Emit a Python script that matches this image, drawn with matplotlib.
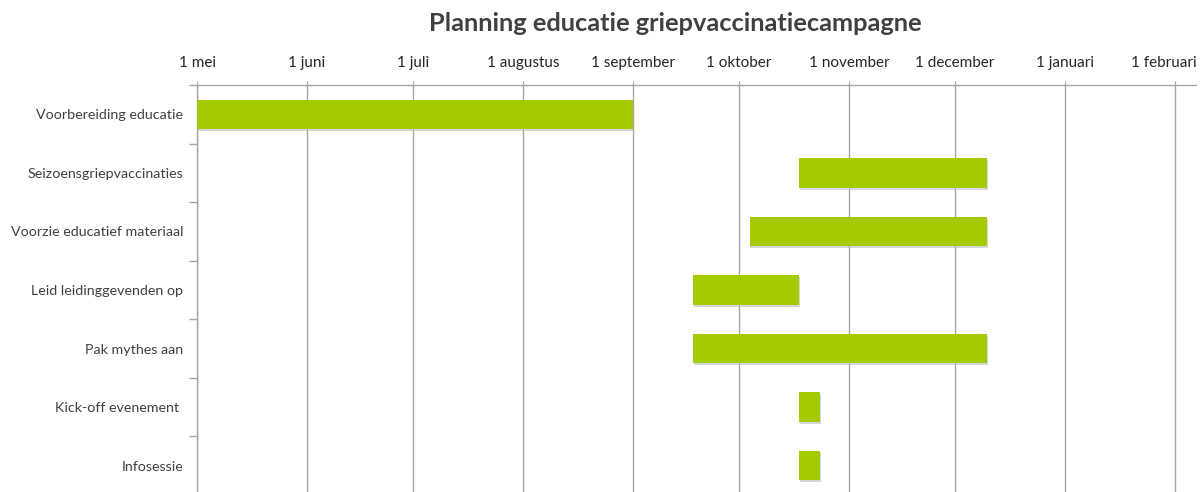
from datetime import date
import matplotlib
matplotlib.use('Agg')
from matplotlib import pyplot as plt
import matplotlib.dates as mdates
import matplotlib.patheffects as pe
import matplotlib.transforms as mtrans

# taken van de planning, bovenste eerst
tasks = ['Voorbereiding educatie', 'Seizoensgriepvaccinaties', 'Voorzie educatief materiaal',
         'Leid leidinggevenden op', 'Pak mythes aan', 'Kick-off evenement ', 'Infosessie']
starts = [date(2014, 5, 1), date(2014, 10, 18), date(2014, 10, 4), date(2014, 9, 18),
          date(2014, 9, 18), date(2014, 10, 18), date(2014, 10, 18)]
ends = [date(2014, 9, 1), date(2014, 12, 10), date(2014, 12, 10), date(2014, 10, 18),
        date(2014, 12, 10), date(2014, 10, 24), date(2014, 10, 24)]

month_ticks = [date(2014, 5, 1), date(2014, 6, 1), date(2014, 7, 1), date(2014, 8, 1),
               date(2014, 9, 1), date(2014, 10, 1), date(2014, 11, 1), date(2014, 12, 1),
               date(2015, 1, 1), date(2015, 2, 1)]
month_labels = ['1 mei', '1 juni', '1 juli', '1 augustus', '1 september', '1 oktober',
                '1 november', '1 december', '1 januari', '1 februari']

plt.rcParams['font.family'] = ['Lato', 'DejaVu Sans']
grey = '#a6a6a6'
green = '#a4ca00'

fig = plt.figure(figsize=(12.02, 4.92), dpi=100)
ax = fig.add_axes([0.1639, -0.006, 0.8311, 0.833])

y = list(range(len(tasks)))
left = mdates.date2num(starts)
width = mdates.date2num(ends) - left
bars = ax.barh(y, width, left=left, height=0.5, color=green, zorder=3)
for b in bars:
    b.set_path_effects([pe.SimplePatchShadow(offset=(0.5, -1.5), shadow_rgbFace='#bbbbbb', alpha=0.6),
                        pe.Normal()])

ax.set_ylim(len(tasks) - 0.5, -0.5)
ax.set_xlim(mdates.date2num(date(2014, 5, 1)), mdates.date2num(date(2015, 2, 7)))

# category labels between the boundary ticks, like excel
ax.set_yticks([i - 0.5 for i in range(len(tasks) + 1)])
ax.set_yticklabels([])
ax.set_yticks(y, minor=True)
ax.set_yticklabels(tasks, minor=True, fontsize=10.3, color='#404040')
ax.tick_params(axis='y', which='major', length=6, color=grey, width=1)
ax.tick_params(axis='y', which='minor', length=0, pad=10)

ax.xaxis.tick_top()
ax.set_xticks(mdates.date2num(month_ticks))
ax.set_xticklabels(month_labels, fontsize=11, color='#262626')
ax.tick_params(axis='x', length=3, color=grey, pad=8)
ax.grid(axis='x', color=grey, linewidth=1, zorder=0)

# excel pulls the last label in so it fits
last = ax.get_xticklabels()[-1]
last.set_transform(last.get_transform() + mtrans.ScaledTranslation(-11 / 100, 0, fig.dpi_scale_trans))

for s in ['right', 'bottom']:
    ax.spines[s].set_visible(False)
for s in ['top', 'left']:
    ax.spines[s].set_color(grey)
    ax.spines[s].set_linewidth(1)

fig.text(0.5616, 0.953, 'Planning educatie griepvaccinatiecampagne', ha='center', va='center',
         fontsize=18.3, fontweight='bold', color='#404040')

plt.savefig('out.png', dpi=100)
plt.close()
